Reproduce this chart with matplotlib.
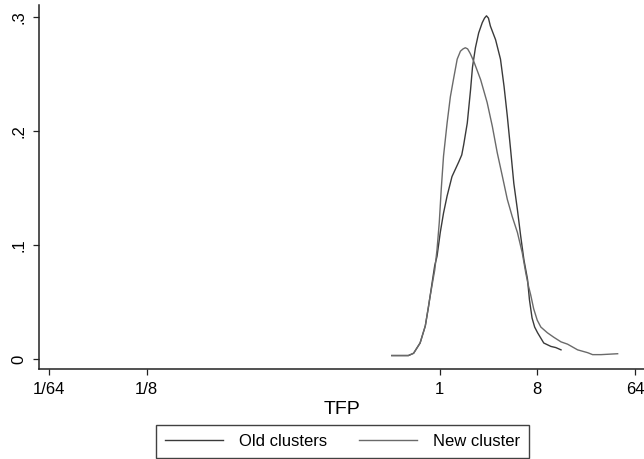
import matplotlib
matplotlib.use("Agg")
import matplotlib.pyplot as plt

plt.rcParams['font.family'] = ['Liberation Sans', 'DejaVu Sans']

# x in log2(TFP) axis units, y = density
old_x = [-1.47, -0.96, -0.80, -0.60, -0.44, -0.34, -0.23, -0.15, -0.08, 0.02, 0.12, 0.23,
         0.38, 0.59, 0.68, 0.74, 0.85, 0.95, 1.01, 1.10, 1.20, 1.31, 1.38, 1.44, 1.50, 1.56, 1.72,
         1.87, 1.98, 2.08, 2.18, 2.28, 2.39, 2.49, 2.59, 2.70, 2.76, 2.84, 2.92, 3.01, 3.20, 3.42,
         3.57, 3.73]
old_y = [0.003, 0.003, 0.005, 0.014, 0.029, 0.046, 0.067, 0.082, 0.090, 0.111, 0.128, 0.143,
         0.160, 0.173, 0.179, 0.188, 0.207, 0.236, 0.256, 0.273, 0.286, 0.295, 0.299, 0.301, 0.299, 0.292,
         0.280, 0.263, 0.239, 0.213, 0.184, 0.154, 0.131, 0.108, 0.087, 0.070, 0.052, 0.036, 0.028, 0.023,
         0.014, 0.011, 0.010, 0.008]

new_x = [-1.47, -0.96, -0.80, -0.60, -0.44, -0.31, -0.20, -0.15, -0.08, -0.01, 0.05, 0.12,
         0.23, 0.33, 0.43, 0.54, 0.64, 0.72, 0.79, 0.86, 0.94, 1.05, 1.26, 1.46, 1.62, 1.77, 1.93,
         2.08, 2.23, 2.39, 2.54, 2.65, 2.73, 2.80, 2.89, 3.00, 3.11, 3.31, 3.51, 3.73, 3.93, 4.24,
         4.55, 4.70, 4.96, 5.47]
new_y = [0.003, 0.003, 0.005, 0.014, 0.029, 0.052, 0.070, 0.078, 0.096, 0.120, 0.149, 0.178,
         0.207, 0.230, 0.246, 0.263, 0.270, 0.272, 0.273, 0.272, 0.268, 0.261, 0.245, 0.225, 0.204, 0.181,
         0.160, 0.140, 0.125, 0.111, 0.093, 0.075, 0.064, 0.056, 0.044, 0.034, 0.028, 0.023, 0.019, 0.015,
         0.013, 0.008, 0.0055, 0.0038, 0.0038, 0.0046]

x_ticks = [-12, -9, 0, 3, 6]
x_tick_labels = ['1/64', '1/8', '1', '8', '64']
y_ticks = [0, 0.1, 0.2, 0.3]
y_tick_labels = ['0', '.1', '.2', '.3']

fig = plt.figure(figsize=(6.44, 4.59), dpi=100)
ax = fig.add_axes([39/644, 90/459, 1 - 39/644, (369 - 5)/459])

ax.plot(old_x, old_y, color='#3a3a3a', lw=1.0, label='Old clusters')
ax.plot(new_x, new_y, color='#6a6a6a', lw=1.0, label='New cluster')

ax.set_xlim(-12.31, 6.28)
ax.set_ylim(-0.0088, 0.3105)

ax.set_xticks(x_ticks)
ax.set_xticklabels(x_tick_labels, fontsize=12)
ax.set_yticks(y_ticks)
ax.set_yticklabels(y_tick_labels, fontsize=12, rotation=90, va='center')
ax.tick_params(axis='both', direction='out', length=4, width=0.9, color='#222222', pad=5)

for s in ['top', 'right']:
    ax.spines[s].set_visible(False)
for s in ['left', 'bottom']:
    ax.spines[s].set_color('#222222')
    ax.spines[s].set_linewidth(1.1)

ax.set_xlabel('TFP', fontsize=14, labelpad=3)

leg = ax.legend(loc='center', bbox_to_anchor=(342.5/644, 1 - 441.5/459),
                bbox_transform=fig.transFigure, ncol=2, fontsize=12,
                handlelength=3.5, handletextpad=0.95, columnspacing=1.9,
                frameon=True, fancybox=False, borderpad=0.55, borderaxespad=0)
leg.get_frame().set_edgecolor('#111111')
leg.get_frame().set_linewidth(1.0)

fig.savefig('out.png', dpi=100)
